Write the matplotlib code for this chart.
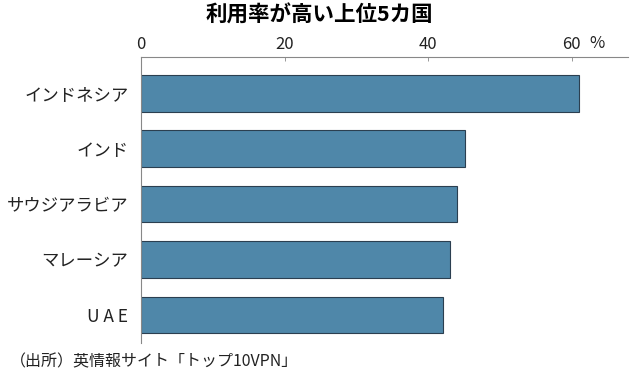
import matplotlib
matplotlib.use("Agg")
from matplotlib import pyplot as plt

plt.rcParams['font.family'] = ['Noto Sans CJK JP', 'DejaVu Sans']

countries = ["インドネシア", "インド", "サウジアラビア", "マレーシア", "U A E"]
rates = [61.0, 45.1, 44.0, 43.0, 42.0]
ticks = [0, 20, 40, 60]

fig = plt.figure(figsize=(6.38, 3.83), dpi=100)
ax = fig.add_axes([0.221, 0.104, 0.763, 0.748])

ypos = list(range(len(countries)))
ax.barh(ypos, rates, height=0.66, color="#4f87a9", edgecolor="#2b3f50", linewidth=0.8)

ax.set_xlim(0, 67.8)
ax.set_ylim(4.51, -0.66)
ax.xaxis.tick_top()
ax.set_xticks(ticks)
ax.set_xticklabels([str(t) for t in ticks], fontsize=12, color="#222222")
ax.tick_params(axis="x", direction="in", length=3, width=0.6, color="#888888", pad=3)
ax.set_yticks(ypos)
ax.set_yticklabels(countries, fontsize=12.5, color="#222222")
ax.tick_params(axis="y", length=0, pad=9)

for s in ["right", "bottom"]:
    ax.spines[s].set_visible(False)
for s in ["top", "left"]:
    ax.spines[s].set_color("#888888")
    ax.spines[s].set_linewidth(0.8)

fig.text(0.924, 0.887, "%", fontsize=12, color="#222222", ha="left", va="center")
fig.text(0.5, 0.96, "利用率が高い上位5カ国", fontsize=15.5, fontweight="bold", ha="center", va="center")
fig.text(0.016, 0.055, "（出所）英情報サイト「トップ10VPN」", fontsize=11.5, color="#222222", ha="left", va="center")

fig.savefig("out.png", dpi=100)
